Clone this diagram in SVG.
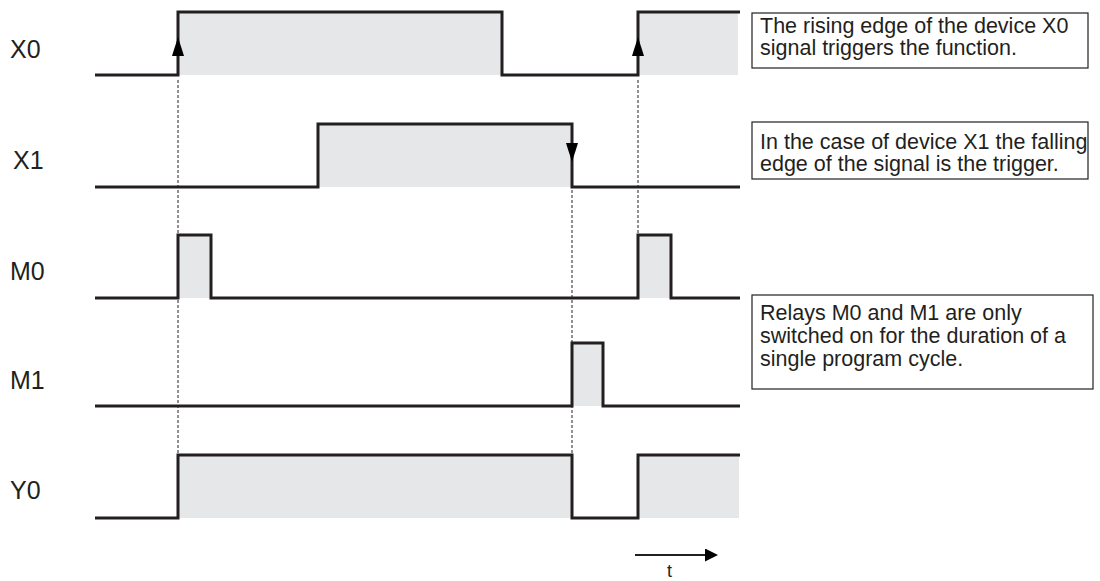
<svg xmlns="http://www.w3.org/2000/svg" width="1100" height="581" viewBox="0 0 1100 581">
<style>
.sig{fill:none;stroke:#231f20;stroke-width:3;stroke-linejoin:miter}
.fill{fill:#e6e7e8;stroke:none}
.dash{fill:none;stroke:#231f20;stroke-width:1;stroke-dasharray:3,2}
.lbl{font-family:"Liberation Sans",Arial,sans-serif;font-size:25px;fill:#231f20}
.note{font-family:"Liberation Sans",Arial,sans-serif;font-size:21.5px;fill:#231f20}
.box{fill:#fff;stroke:#231f20;stroke-width:1.2}
.ah{fill:#000}
</style>
<defs>
<marker id="tarrow" markerWidth="13" markerHeight="13" refX="1" refY="6.5" orient="auto" markerUnits="userSpaceOnUse">
<path d="M0,0 L13,6.5 L0,13 Z" fill="#000"/>
</marker>
</defs>
<rect width="1100" height="581" fill="#fff"/>
<g id="connectors">
<line class="dash" x1="178" y1="80" x2="178" y2="455"/>
<line class="dash" x1="572" y1="190" x2="572" y2="455"/>
<line class="dash" x1="638" y1="80" x2="638" y2="235"/>
</g>
<g id="X0">
<text class="lbl" x="10" y="58">X0</text>
<rect class="fill" x="178" y="12" width="324" height="63"/>
<rect class="fill" x="638" y="12" width="100" height="63"/>
<polyline class="sig" points="95,75 178,75 178,12 502,12 502,75 638,75 638,12 740,12"/>
<path class="ah" d="M178,37 L184,56 L172,56 Z"/>
<path class="ah" d="M638,37 L644,56 L632,56 Z"/>
</g>
<g id="X1">
<text class="lbl" x="13" y="169">X1</text>
<rect class="fill" x="318" y="124" width="254" height="63"/>
<polyline class="sig" points="95,187 318,187 318,124 572,124 572,187 740,187"/>
<path class="ah" d="M572,162 L578,143 L566,143 Z"/>
</g>
<g id="M0">
<text class="lbl" x="10" y="280">M0</text>
<rect class="fill" x="178" y="235" width="33" height="63"/>
<rect class="fill" x="638" y="235" width="33" height="63"/>
<polyline class="sig" points="95,298 178,298 178,235 211,235 211,298 638,298 638,235 671,235 671,298 740,298"/>
</g>
<g id="M1">
<text class="lbl" x="10" y="389">M1</text>
<rect class="fill" x="572" y="343" width="31" height="63"/>
<polyline class="sig" points="95,406 572,406 572,343 603,343 603,406 740,406"/>
</g>
<g id="Y0">
<text class="lbl" x="10" y="499">Y0</text>
<rect class="fill" x="178" y="455" width="394" height="63"/>
<rect class="fill" x="638" y="455" width="101" height="63"/>
<polyline class="sig" points="95,518 178,518 178,455 572,455 572,518 638,518 638,455 740,455"/>
</g>
<g id="time">
<line x1="635" y1="555" x2="706" y2="555" stroke="#231f20" stroke-width="2" marker-end="url(#tarrow)"/>
<text class="lbl" x="667" y="577" style="font-size:18px">t</text>
</g>
<g id="note1">
<rect class="box" x="752" y="13" width="336" height="55"/>
<text class="note" x="760" y="33">The rising edge of the device X0</text>
<text class="note" x="760" y="55">signal triggers the function.</text>
</g>
<g id="note2">
<rect class="box" x="752" y="122" width="336" height="57"/>
<text class="note" x="760" y="149">In the case of device X1 the falling</text>
<text class="note" x="760" y="171">edge of the signal is the trigger.</text>
</g>
<g id="note3">
<rect class="box" x="752" y="295" width="341" height="94"/>
<text class="note" x="760" y="320">Relays M0 and M1 are only</text>
<text class="note" x="760" y="343">switched on for the duration of a</text>
<text class="note" x="760" y="366">single program cycle.</text>
</g>
</svg>
